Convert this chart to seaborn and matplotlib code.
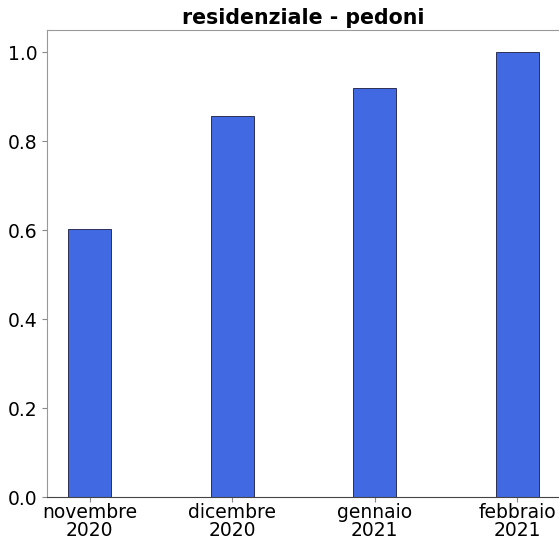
import matplotlib
matplotlib.use("Agg")
import matplotlib.pyplot as plt
import seaborn as sns
import pandas as pd

months = ["novembre\n2020", "dicembre\n2020", "gennaio\n2021", "febbraio\n2021"]
values = [0.603, 0.857, 0.920, 1.0]

df = pd.DataFrame({"mese": months, "valore": values})

plt.rcParams["font.family"] = ["DejaVu Sans"]

fig = plt.figure(figsize=(5.59, 5.41), dpi=100)
ax = fig.add_axes([0.084, 0.081, 0.918, 0.864])

sns.barplot(ax=ax, data=df, x="mese", y="valore", color="royalblue",
            saturation=1, width=0.3, edgecolor="#1a1a40", linewidth=0.6)

ax.set_xlim(-0.3, 3.3)
ax.set_ylim(0, 1.05)
ax.set_yticks([0.0, 0.2, 0.4, 0.6, 0.8, 1.0])
ax.set_xlabel("")
ax.set_ylabel("")
ax.set_title("residenziale - pedoni", fontsize=14.8, fontweight="bold", pad=4)
ax.tick_params(axis="both", labelsize=13.5, color="#888888", length=3.5)
ax.tick_params(axis="x", pad=1)
for lbl in ax.get_xticklabels():
    lbl.set_linespacing(0.9)

for side in ["left", "top", "right"]:
    ax.spines[side].set_color("#999999")
ax.spines["bottom"].set_color("#444444")

fig.savefig("out.png", dpi=100)
